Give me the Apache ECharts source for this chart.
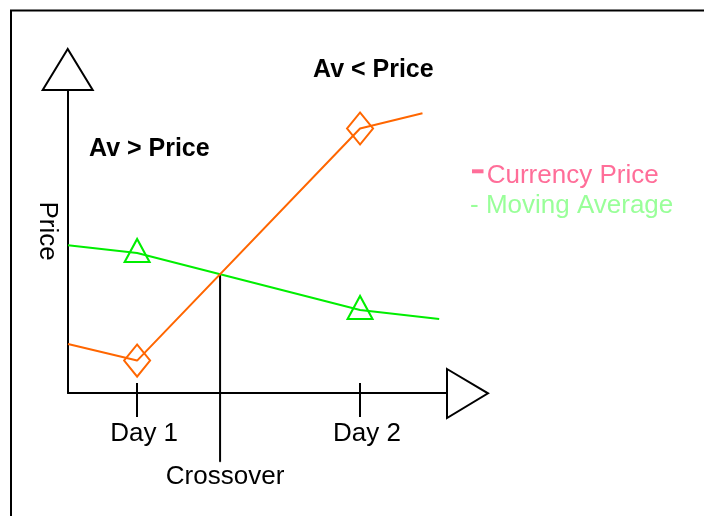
<!DOCTYPE html>
<html>
<head>
<meta charset="utf-8">
<script src="https://cdn.jsdelivr.net/npm/echarts@6/dist/echarts.min.js"></script>
<style>
html, body { margin: 0; padding: 0; background: #fff; }
#main { width: 704px; height: 516px; }
</style>
</head>
<body>
<div id="main"></div>
<script>
// tick labels on the time axis
var dayValues = [1, 2];
var dayLabels = ['Day 1', 'Day 2'];

// currency price (orange), moving average (green)
var priceX = [0.69, 1, 2, 2.28];
var priceY = [16.2, 10.7, 87.3, 92.3];
var avgX = [0.69, 1, 2, 2.355];
var avgY = [48.8, 46.2, 27.4, 24.4];

// how far the crossover marker drops below the time axis
var crossBottom = -22.7;

var FONT = '"Liberation Sans", Arial, sans-serif';

// where the two lines cross between Day 1 and Day 2
function crossing() {
	var d0 = avgY[1] - priceY[1];
	var d1 = avgY[2] - priceY[2];
	var t = d0 / (d0 - d1);
	return [priceX[1] + t * (priceX[2] - priceX[1]), priceY[1] + t * (priceY[2] - priceY[1])];
}

function toItems(xs, ys) {
	var out = [];
	for (var i = 0; i < xs.length; i++) {
		out.push({
			value : [ xs[i], ys[i] ],
			symbol : dayValues.indexOf(xs[i]) >= 0 ? undefined : 'none'
		});
	}
	return out;
}

var cross = crossing();
var myChart = echarts.init(document.getElementById('main'));

var option = {
	animation : false,
	grid : {
		left : 68,
		right : 257,
		top : 90,
		bottom : 123
	},
	xAxis : [ {
		type : 'value',
		min : 0.69,
		max : 2.39,
		axisLine : {
			lineStyle : { color : '#000', width : 2 }
		},
		axisTick : {
			customValues : dayValues,
			length : 24,
			lineStyle : { color : '#000', width : 2 }
		},
		axisLabel : {
			customValues : dayValues,
			margin : 28,
			padding : [ 0, 0, 0, 14 ],
			color : '#000',
			fontSize : 26,
			fontFamily : FONT,
			formatter : function(v) {
				return dayLabels[dayValues.indexOf(v)];
			}
		},
		splitLine : { show : false }
	}, {
		// upper half of the day ticks
		type : 'value',
		position : 'bottom',
		min : 0.69,
		max : 2.39,
		axisLine : { show : false },
		axisTick : {
			inside : true,
			customValues : dayValues,
			length : 10,
			lineStyle : { color : '#000', width : 2 }
		},
		axisLabel : { show : false },
		splitLine : { show : false }
	} ],
	yAxis : {
		type : 'value',
		min : 0,
		max : 100,
		axisLine : {
			show : true,
			lineStyle : { color : '#000', width : 2 }
		},
		axisTick : { show : false },
		axisLabel : { show : false },
		splitLine : { show : false }
	},
	series : [ {
		name : 'Currency Price',
		type : 'line',
		data : toItems(priceX, priceY),
		symbol : 'diamond',
		symbolSize : [ 26, 32 ],
		lineStyle : { color : '#FF6600', width : 2 },
		itemStyle : { color : 'rgba(0,0,0,0)', borderColor : '#FF6600', borderWidth : 2 },
		z : 3
	}, {
		name : 'Moving Average',
		type : 'line',
		data : toItems(avgX, avgY),
		symbol : 'triangle',
		symbolSize : [ 25, 23 ],
		symbolOffset : [ 0, -2.5 ],
		lineStyle : { color : '#00EE00', width : 2 },
		itemStyle : { color : 'rgba(0,0,0,0)', borderColor : '#00EE00', borderWidth : 2 },
		z : 2
	}, {
		name : 'Crossover',
		type : 'line',
		clip : false,
		symbol : 'circle',
		symbolSize : 1,
		lineStyle : { color : '#000', width : 2 },
		itemStyle : { color : '#000' },
		data : [ cross, {
			value : [ cross[0], crossBottom ],
			label : {
				show : true,
				position : 'bottom',
				distance : 2,
				offset : [ 5, 0 ],
				formatter : 'Crossover',
				color : '#000',
				fontSize : 26,
				fontFamily : FONT
			}
		} ],
		z : 1
	} ],
	graphic : [ {
		type : 'rect',
		silent : true,
		shape : { x : 11, y : 10.5, width : 800, height : 600 },
		style : { fill : 'none', stroke : '#000', lineWidth : 2 }
	}, {
		type : 'polygon',
		shape : { points : [ [ 67.7, 49 ], [ 42.7, 90 ], [ 92.7, 90 ] ] },
		style : { fill : '#fff', stroke : '#000', lineWidth : 2 }
	}, {
		type : 'polygon',
		shape : { points : [ [ 447, 369 ], [ 488, 393.3 ], [ 447, 418 ] ] },
		style : { fill : '#fff', stroke : '#000', lineWidth : 2 }
	}, {
		type : 'text',
		x : 47.3,
		y : 231,
		rotation : -Math.PI / 2,
		style : { text : 'Price', fill : '#000', fontSize : 26, fontFamily : FONT, align : 'center', verticalAlign : 'middle' }
	}, {
		type : 'text',
		x : 89,
		y : 149.6,
		style : { text : 'Av > Price', fill : '#000', fontSize : 25, fontWeight : 'bold', fontFamily : FONT, verticalAlign : 'middle' }
	}, {
		type : 'text',
		x : 313,
		y : 69.8,
		style : { text : 'Av < Price', fill : '#000', fontSize : 25, fontWeight : 'bold', fontFamily : FONT, verticalAlign : 'middle' }
	}, {
		type : 'rect',
		shape : { x : 472, y : 169.3, width : 11.5, height : 4 },
		style : { fill : '#FF6E99' }
	}, {
		type : 'text',
		x : 486.7,
		y : 176,
		style : { text : 'Currency Price', fill : '#FF6E99', fontSize : 26, fontFamily : FONT, verticalAlign : 'middle' }
	}, {
		type : 'text',
		x : 470,
		y : 206,
		style : { text : '- Moving Average', fill : '#99FF99', fontSize : 26, fontFamily : FONT, verticalAlign : 'middle' }
	} ]
};
myChart.setOption(option);
</script>
</body>
</html>
